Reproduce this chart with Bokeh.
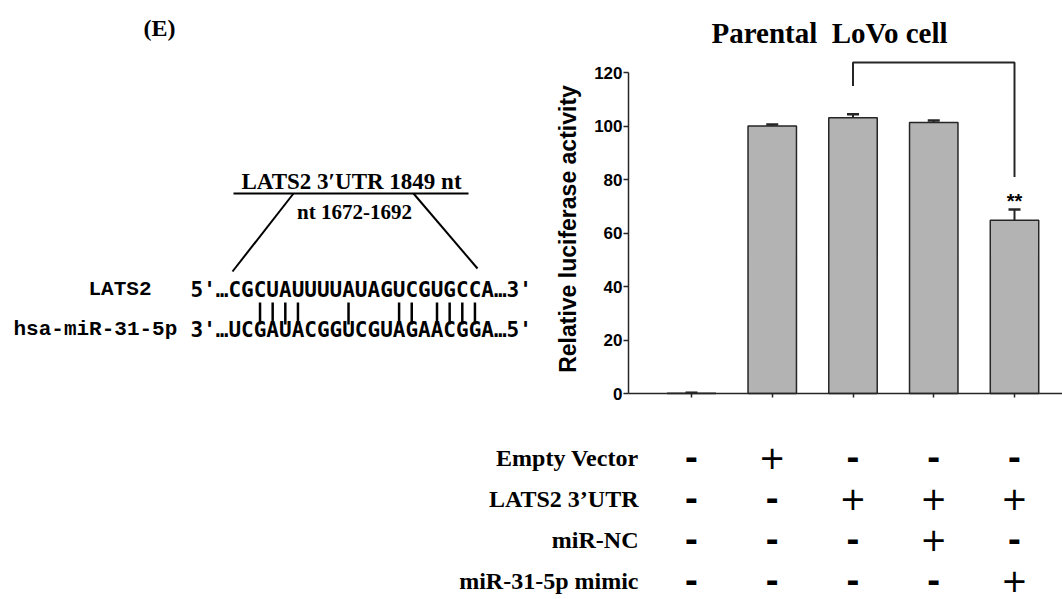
import math
from bokeh.plotting import figure
from bokeh.models import Range1d, FixedTicker, Whisker, TeeHead, ColumnDataSource
from bokeh.core.properties import value
from bokeh.embed import file_html
from bokeh.resources import INLINE

# ---------------- data ----------------
x_pos = [1, 2, 3, 4, 5]
luciferase = [0.1, 100.0, 103.1, 101.3, 64.8]
sem = [0.2, 0.6, 1.3, 0.8, 4.0]
y_ticks = [0, 20, 40, 60, 80, 100, 120]

row_labels = ["Empty Vector", "LATS2 3\u2019UTR", "miR-NC", "miR-31-5p mimic"]
empty_vector = ["-", "+", "-", "-", "-"]
lats2_utr = ["-", "-", "+", "+", "+"]
mir_nc = ["-", "-", "-", "+", "-"]
mir31_mimic = ["-", "-", "-", "-", "+"]

bracket_x = [3, 3, 5, 5]
bracket_y = [115.0, 123.7, 123.7, 80.9]
sig_text = "**"
sig_y = 72.0

lats2_seq = "CGCUAUUUUAUAGUCGUGCCA"
mir_seq = "UCGAUACGGUCGUAGAACGGA"
pair_idx = [2, 3, 4, 5, 9, 13, 14, 16, 17, 18, 19]

# ---------------- layout constants ----------------
SERIF = value("Liberation Serif")
SANS = value("Liberation Sans")
MONO = value("Liberation Mono")
SEQ = value("DejaVu Sans Mono")
INK = "#262626"

W, H = 1062, 599
PX = 80.75          # pixels per category
C1 = 691            # page pixel of category 1
Y0 = 393            # page pixel of value 0
YPX = 2.675         # pixels per value unit
AX_LEFT = 1 - (C1 - 628) / PX
ROW0, ROW = 457, 41.0
BL = 8              # alphabetic-baseline correction (svg)


def cx(pix):        # page pixel -> category coordinate (layout only)
    return 1 + (pix - C1) / PX


def vy(pix):        # page pixel -> value coordinate (layout only)
    return (Y0 - pix) / YPX


p = figure(width=W, height=H,
           x_range=Range1d(cx(0), cx(W)), y_range=Range1d(vy(H), vy(0)),
           output_backend="svg", toolbar_location=None, min_border=0)
p.extra_x_ranges = {"px": Range1d(0, W)}
p.extra_y_ranges = {"py": Range1d(H, 0),
                    "rows": Range1d((H - ROW0) / ROW, -ROW0 / ROW)}
p.grid.visible = False
p.outline_line_color = None

# ---------------- left diagram (page-pixel coordinates) ----------------
D = dict(x_range_name="px", y_range_name="py")
p.text(x=[159], y=[27], text=["(E)"], text_align="center", text_baseline="middle",
       text_font=SERIF, text_font_style="bold", text_font_size="24px", text_color="black", **D)
p.text(x=[351], y=[189 - BL], text=["LATS2 3\u2032UTR 1849 nt"], text_align="center",
       text_baseline="alphabetic", text_font=SERIF, text_font_style="bold",
       text_font_size="23px", text_color="black", **D)
p.segment(x0=[233], y0=[193], x1=[468], y1=[193], line_color="black", line_width=2, **D)
p.text(x=[354], y=[219 - BL], text=["nt 1672-1692"], text_align="center",
       text_baseline="alphabetic", text_font=SERIF, text_font_style="bold",
       text_font_size="21px", text_color="black", **D)
p.segment(x0=[293, 413], y0=[193, 193], x1=[232, 477], y1=[271, 268],
          line_color="black", line_width=2, **D)
p.text(x=[88, 13], y=[297 - BL, 337 - BL], text=["LATS2", "hsa-miR-31-5p"], text_align="left",
       text_baseline="alphabetic", text_font=MONO, text_font_style="bold",
       text_font_size="21px", text_color="black", **D)
seq_left = 190
adv = 0.602 * 21
p.text(x=[seq_left, seq_left], y=[297 - BL, 337 - BL],
       text=["5'\u2026" + lats2_seq + "\u20263'", "3'\u2026" + mir_seq + "\u20265'"],
       text_align="left", text_baseline="alphabetic", text_font=SEQ,
       text_font_style="bold", text_font_size="21px", text_color="black", **D)
pair_x = [seq_left + adv * (3 + i + 0.5) for i in pair_idx]
p.segment(x0=pair_x, y0=[302] * len(pair_x), x1=pair_x, y1=[324] * len(pair_x),
          line_color="black", line_width=2.5, **D)

# ---------------- bar chart (category / value coordinates) ----------------
p.text(x=[cx(829)], y=[vy(32)], text=["Parental\u00a0 LoVo cell"], text_align="center",
       text_baseline="middle", text_font=SERIF, text_font_style="bold",
       text_font_size="29px", text_color="black")
p.text(x=[cx(567.5)], y=[vy(228.5)], text=["Relative luciferase activity"], angle=math.pi / 2,
       text_align="center", text_baseline="middle", text_font=SANS, text_font_style="bold",
       text_font_size="23px", text_color="black")

src = ColumnDataSource(dict(x=x_pos, top=luciferase,
                            upper=[v + e for v, e in zip(luciferase, sem)]))
p.vbar(x="x", top="top", bottom=0, width=0.6, source=src,
       fill_color="#b3b3b3", line_color=INK, line_width=1.5)
p.add_layout(Whisker(source=src, base="x", upper="upper", lower="top",
                     upper_head=TeeHead(size=12, line_width=2.5, line_color=INK),
                     lower_head=None, line_width=2, line_color=INK, level="overlay"))
p.line(bracket_x, bracket_y, line_color=INK, line_width=2)
p.text(x=[5], y=[sig_y], text=[sig_text], text_align="center", text_baseline="middle",
       text_font=SANS, text_font_style="bold", text_font_size="20px", text_color="black")

ya = p.yaxis[0]
ya.fixed_location = AX_LEFT
ya.ticker = FixedTicker(ticks=y_ticks)
ya.bounds = (0, 120)
ya.axis_line_color = INK
ya.axis_line_width = 1.5
ya.major_tick_line_color = INK
ya.major_tick_line_width = 1.5
ya.major_tick_in = 0
ya.major_tick_out = 5
ya.minor_tick_line_color = None
ya.major_label_standoff = 1
ya.major_label_text_font = "Liberation Sans"
ya.major_label_text_font_style = "bold"
ya.major_label_text_font_size = "17px"
ya.major_label_text_color = "black"

xa = p.xaxis[0]
xa.fixed_location = 0
xa.bounds = (AX_LEFT, cx(W))
xa.ticker = FixedTicker(ticks=x_pos)
xa.axis_line_color = INK
xa.axis_line_width = 1.5
xa.major_tick_line_color = INK
xa.major_tick_line_width = 1.5
xa.major_tick_in = 0
xa.major_tick_out = 4
xa.minor_tick_line_color = None
xa.major_label_overrides = {x: "" for x in x_pos}
xa.major_label_text_font_size = "10px"

# ---------------- condition table ----------------
R = dict(y_range_name="rows")
rows_idx = list(range(len(row_labels)))
p.text(x=[cx(638)] * len(row_labels), y=rows_idx, text=row_labels,
       text_align="right", text_baseline="middle", text_font=SERIF,
       text_font_style="bold", text_font_size="24px", text_color="black", **R)
plus_x, plus_y, minus_x, minus_y = [], [], [], []
for r, signs in enumerate([empty_vector, lats2_utr, mir_nc, mir31_mimic]):
    for xp, s in zip(x_pos, signs):
        if s == "+":
            plus_x.append(xp); plus_y.append(r)
        else:
            minus_x.append(xp); minus_y.append(r)
p.text(x=plus_x, y=plus_y, text=["+"] * len(plus_x), text_align="center",
       text_baseline="middle", text_font=value("DejaVu Sans"), text_font_size="32px",
       text_color="black", **R)
p.text(x=minus_x, y=minus_y, text=["-"] * len(minus_x), text_align="center",
       text_baseline="middle", text_font=value("DejaVu Sans"), text_font_style="bold",
       text_font_size="32px", text_color="black", **R)

open("out.html", "w").write(file_html(p, INLINE))
